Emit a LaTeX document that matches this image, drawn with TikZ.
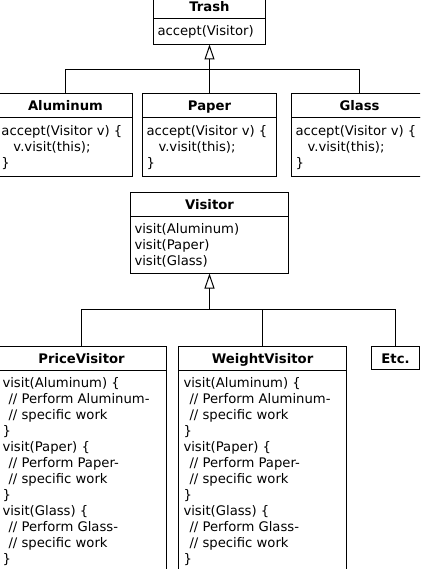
\documentclass[tikz,border=0pt]{standalone}
\usepackage{fontspec}
\setmainfont{DejaVu Sans}
\usetikzlibrary{arrows.meta}
\newcommand\codefont{\fontsize{13.2}{16}\selectfont}
\newcommand\titlefont{\fontsize{13.2}{16}\selectfont\bfseries}
\tikzset{
  cls/.style={draw, line width=1pt, inner sep=0pt, outer sep=0pt, anchor=north west, font=\titlefont, text height=10pt, text depth=0pt, minimum height=24pt},
  bodybox/.style={draw, line width=1pt, inner sep=0pt, outer sep=0pt, anchor=north west},
  code/.style={inner sep=0pt, outer sep=0pt, anchor=base west, font=\codefont},
  link/.style={line width=1pt},
  inh/.style={line width=1pt, -{Triangle[open,length=15pt,width=10pt]}},
}
\begin{document}
\begin{tikzpicture}[x=1pt,y=-1pt]
\useasboundingbox (0,0) rectangle (420,569);
\clip (0,0) rectangle (420,569);
% Trash
\node[cls, minimum width=112pt] (trN) at (153.5,-5.5) {Trash};
\node[bodybox, minimum width=112pt, minimum height=26pt] (trB) at (trN.south west) {};
\node[code] (trT) at ([xshift=4pt,yshift=-17.5pt]trB.north west) {accept(Visitor)};
% Aluminum
\node[cls, minimum width=134pt] (alN) at (-1.5,93.5) {Aluminum};
\node[bodybox, minimum width=134pt, minimum height=59pt] (alB) at (alN.south west) {};
\node[code] (alT) at ([xshift=3pt,yshift=-18pt]alB.north west) {\begin{tabular}[t]{@{}l@{}}accept(Visitor v) \{\\\hspace*{12pt}v.visit(this);\\\}\end{tabular}};
% Paper
\node[cls, minimum width=134pt] (paN) at (142.5,93.5) {Paper};
\node[bodybox, minimum width=134pt, minimum height=59pt] (paB) at (paN.south west) {};
\node[code] (paT) at ([xshift=4pt,yshift=-18pt]paB.north west) {\begin{tabular}[t]{@{}l@{}}accept(Visitor v) \{\\\hspace*{12pt}v.visit(this);\\\}\end{tabular}};
% Glass
\node[cls, minimum width=136pt] (glN) at (291.5,93.5) {Glass};
\node[bodybox, minimum width=136pt, minimum height=59pt] (glB) at (glN.south west) {};
\node[code] (glT) at ([xshift=4pt,yshift=-18pt]glB.north west) {\begin{tabular}[t]{@{}l@{}}accept(Visitor v) \{\\\hspace*{12pt}v.visit(this);\\\}\end{tabular}};
% Visitor
\node[cls, minimum width=158pt] (viN) at (130.5,192.5) {Visitor};
\node[bodybox, minimum width=158pt, minimum height=57pt] (viB) at (viN.south west) {};
\node[code] (viT) at ([xshift=4pt,yshift=-16.5pt]viB.north west) {\begin{tabular}[t]{@{}l@{}}visit(Aluminum)\\visit(Paper)\\visit(Glass)\end{tabular}};
% PriceVisitor
\node[cls, minimum width=170pt] (pvN) at (-3.5,346.5) {PriceVisitor};
\node[bodybox, minimum width=170pt, minimum height=220pt] (pvB) at (pvN.south west) {};
\node[code] (pvT) at ([xshift=6pt,yshift=-16.5pt]pvB.north west) {\begin{tabular}[t]{@{}l@{}}visit(Aluminum) \{\\\hspace*{6pt}// Perform Aluminum-\\\hspace*{6pt}// specific work\\\}\\visit(Paper) \{\\\hspace*{6pt}// Perform Paper-\\\hspace*{6pt}// specific work\\\}\\visit(Glass) \{\\\hspace*{6pt}// Perform Glass-\\\hspace*{6pt}// specific work\\\}\end{tabular}};
% WeightVisitor
\node[cls, minimum width=168pt] (wvN) at (178.5,346.5) {WeightVisitor};
\node[bodybox, minimum width=168pt, minimum height=220pt] (wvB) at (wvN.south west) {};
\node[code] (wvT) at ([xshift=5pt,yshift=-16.5pt]wvB.north west) {\begin{tabular}[t]{@{}l@{}}visit(Aluminum) \{\\\hspace*{6pt}// Perform Aluminum-\\\hspace*{6pt}// specific work\\\}\\visit(Paper) \{\\\hspace*{6pt}// Perform Paper-\\\hspace*{6pt}// specific work\\\}\\visit(Glass) \{\\\hspace*{6pt}// Perform Glass-\\\hspace*{6pt}// specific work\\\}\end{tabular}};
% Etc.
\node[cls, minimum width=48pt, minimum height=23pt] (etN) at (371.5,346.5) {Etc.};
% connectors
\coordinate (h1) at (209.5,69.5);
\draw[inh] (h1) -- (trB.south);
\draw[link] (alN.north) |- (h1) -| (glN.north);
\draw[link] (paN.north) -- (h1);
\coordinate (h2) at (209.5,309.5);
\draw[inh] (h2) -- (viB.south);
\draw[link] (pvN.north) |- (h2) -| (etN.north);
\draw[link] (wvN.north) -- (wvN.north |- h2);
\end{tikzpicture}
\end{document}
